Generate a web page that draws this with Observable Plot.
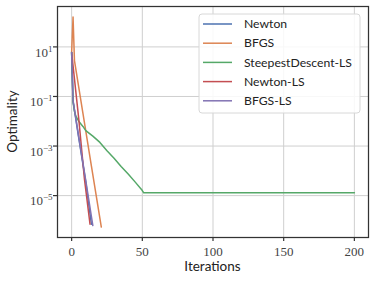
<!DOCTYPE html>
<html><head><meta charset="utf-8">
<script src="https://cdn.jsdelivr.net/npm/d3@7"></script>
<script src="https://cdn.jsdelivr.net/npm/@observablehq/plot@0.6"></script>
<style>body{margin:0;background:#fff} #chart{width:374px;height:281px}</style>
</head><body><div id="chart"></div>
<script>
const seriesNames = ["Newton", "BFGS", "SteepestDescent-LS", "Newton-LS", "BFGS-LS"];
const seriesColors = ["#4c72b0", "#dd8452", "#55a868", "#c44e52", "#8172b3"];

const newtonIter = [0, 1, 5, 10, 14];
const newtonVal  = [5.9, 0.065, 2.2e-3, 3.5e-5, 7e-7];

const bfgsIter = [0, 1, 2, 8, 14, 21];
const bfgsVal  = [5.9, 160, 2.8, 0.021, 1.55e-4, 5.4e-7];

const sdIter = [0, 1, 2, 3, 5, 8, 10, 15, 20, 25, 30, 35, 40, 45, 50, 51, 200];
const sdVal  = [5.9, 0.06, 0.025, 0.016, 0.010, 0.0062, 0.0042, 0.0025, 0.0014,
                6.5e-4, 3.2e-4, 1.5e-4, 7.5e-5, 3.5e-5, 1.6e-5, 1.3e-5, 1.3e-5];

const newtonLsIter = [0, 5, 9, 13];
const newtonLsVal  = [5.9, 1.3e-2, 5e-5, 7e-7];

const bfgsLsIter = [0, 1, 5, 10, 15];
const bfgsLsVal  = [5.9, 0.068, 2.4e-3, 4e-5, 6.2e-7];

const xTicks = [0, 50, 100, 150, 200];
const yTicks = [10, 0.1, 1e-3, 1e-5];

const series = [
  [seriesNames[0], newtonIter, newtonVal],
  [seriesNames[1], bfgsIter, bfgsVal],
  [seriesNames[2], sdIter, sdVal],
  [seriesNames[3], newtonLsIter, newtonLsVal],
  [seriesNames[4], bfgsLsIter, bfgsLsVal]
];
const rows = series.flatMap(([name, xs, ys]) => xs.map((x, i) => ({series: name, iter: x, value: ys[i]})));

const W = 374, H = 281, mL = 57, mR = 6, mT = 6, mB = 44;
const serif = "'Liberation Serif', 'DejaVu Serif', serif";

const chart = Plot.plot({
  width: W, height: H, marginLeft: mL, marginRight: mR, marginTop: mT, marginBottom: mB,
  style: {background: "#fff", fontSize: "13px", color: "#333"},
  x: {domain: [-10, 210], label: null},
  y: {type: "log", domain: [10 ** -6.69, 10 ** 2.63], label: null},
  color: {domain: seriesNames, range: seriesColors},
  marks: [
    Plot.gridX(xTicks, {stroke: "#cfcfcf", strokeOpacity: 1, strokeWidth: 1}),
    Plot.gridY(yTicks, {stroke: "#cfcfcf", strokeOpacity: 1, strokeWidth: 1}),
    Plot.line(rows, {x: "iter", y: "value", z: "series", stroke: "series", strokeWidth: 1.5}),
    Plot.axisX(xTicks, {tickSize: 4, tickPadding: 5.5, fontSize: 13, label: null,
      stroke: "#333", strokeWidth: 1.2, fill: "#444"}),
    Plot.axisY(yTicks, {tickSize: 4, tickPadding: 1, fontSize: 13, label: null,
      stroke: "#333", strokeWidth: 1.2, fill: "#444",
      tickFormat: d => "10^" + Math.round(Math.log10(d))}),
    Plot.frame({stroke: "#333", strokeWidth: 1.25})
  ]
});

const svg = d3.select(chart);
svg.selectAll('g[aria-label="x-axis tick label"], g[aria-label="y-axis tick label"]')
  .attr("font-family", null).style("font-family", serif);
svg.selectAll('g[aria-label="x-axis tick label"] text, g[aria-label="y-axis tick label"] text')
  .style("font-family", serif);
// superscript exponents on y tick labels
svg.selectAll('g[aria-label="y-axis tick label"] text').each(function() {
  const t = this.textContent;
  if (!t.includes("^")) return;
  const [base, exp] = t.split("^");
  const e = exp.replace("-", "\u2212");
  const el = d3.select(this);
  el.text(null).attr("dy", "0.42em");
  el.append("tspan").text(base);
  el.append("tspan").attr("dy", "-0.55em").attr("font-size", "9px").text(e);
});

const sans = "Lato, 'Open Sans', sans-serif";
// axis labels
svg.append("text").attr("x", (mL + W - mR) / 2).attr("y", 271)
  .attr("text-anchor", "middle").attr("font-family", sans).attr("font-size", 13.5).attr("fill", "#222")
  .text("Iterations");
svg.append("text").attr("transform", `translate(16.5,${(mT + H - mB) / 2}) rotate(-90)`)
  .attr("text-anchor", "middle").attr("font-family", sans).attr("font-size", 13.5).attr("fill", "#222")
  .text("Optimality");

// legend
const lg = svg.append("g").attr("font-family", sans).attr("font-size", 12.2).attr("text-anchor", "start");
lg.append("rect").attr("x", 199).attr("y", 14).attr("width", 161).attr("height", 99).attr("rx", 3)
  .attr("fill", "#fff").attr("fill-opacity", 0.85).attr("stroke", "#d8d8d8").attr("stroke-width", 1);
seriesNames.forEach((name, i) => {
  const y = 24 + i * 19.2;
  lg.append("line").attr("x1", 203).attr("x2", 232).attr("y1", y).attr("y2", y)
    .attr("stroke", seriesColors[i]).attr("stroke-width", 1.5);
  lg.append("text").attr("x", 244).attr("y", y).attr("dy", "0.35em").attr("fill", "#222")
    .attr("text-anchor", "start").text(name);
});

document.getElementById("chart").appendChild(chart);
</script>
</body></html>
